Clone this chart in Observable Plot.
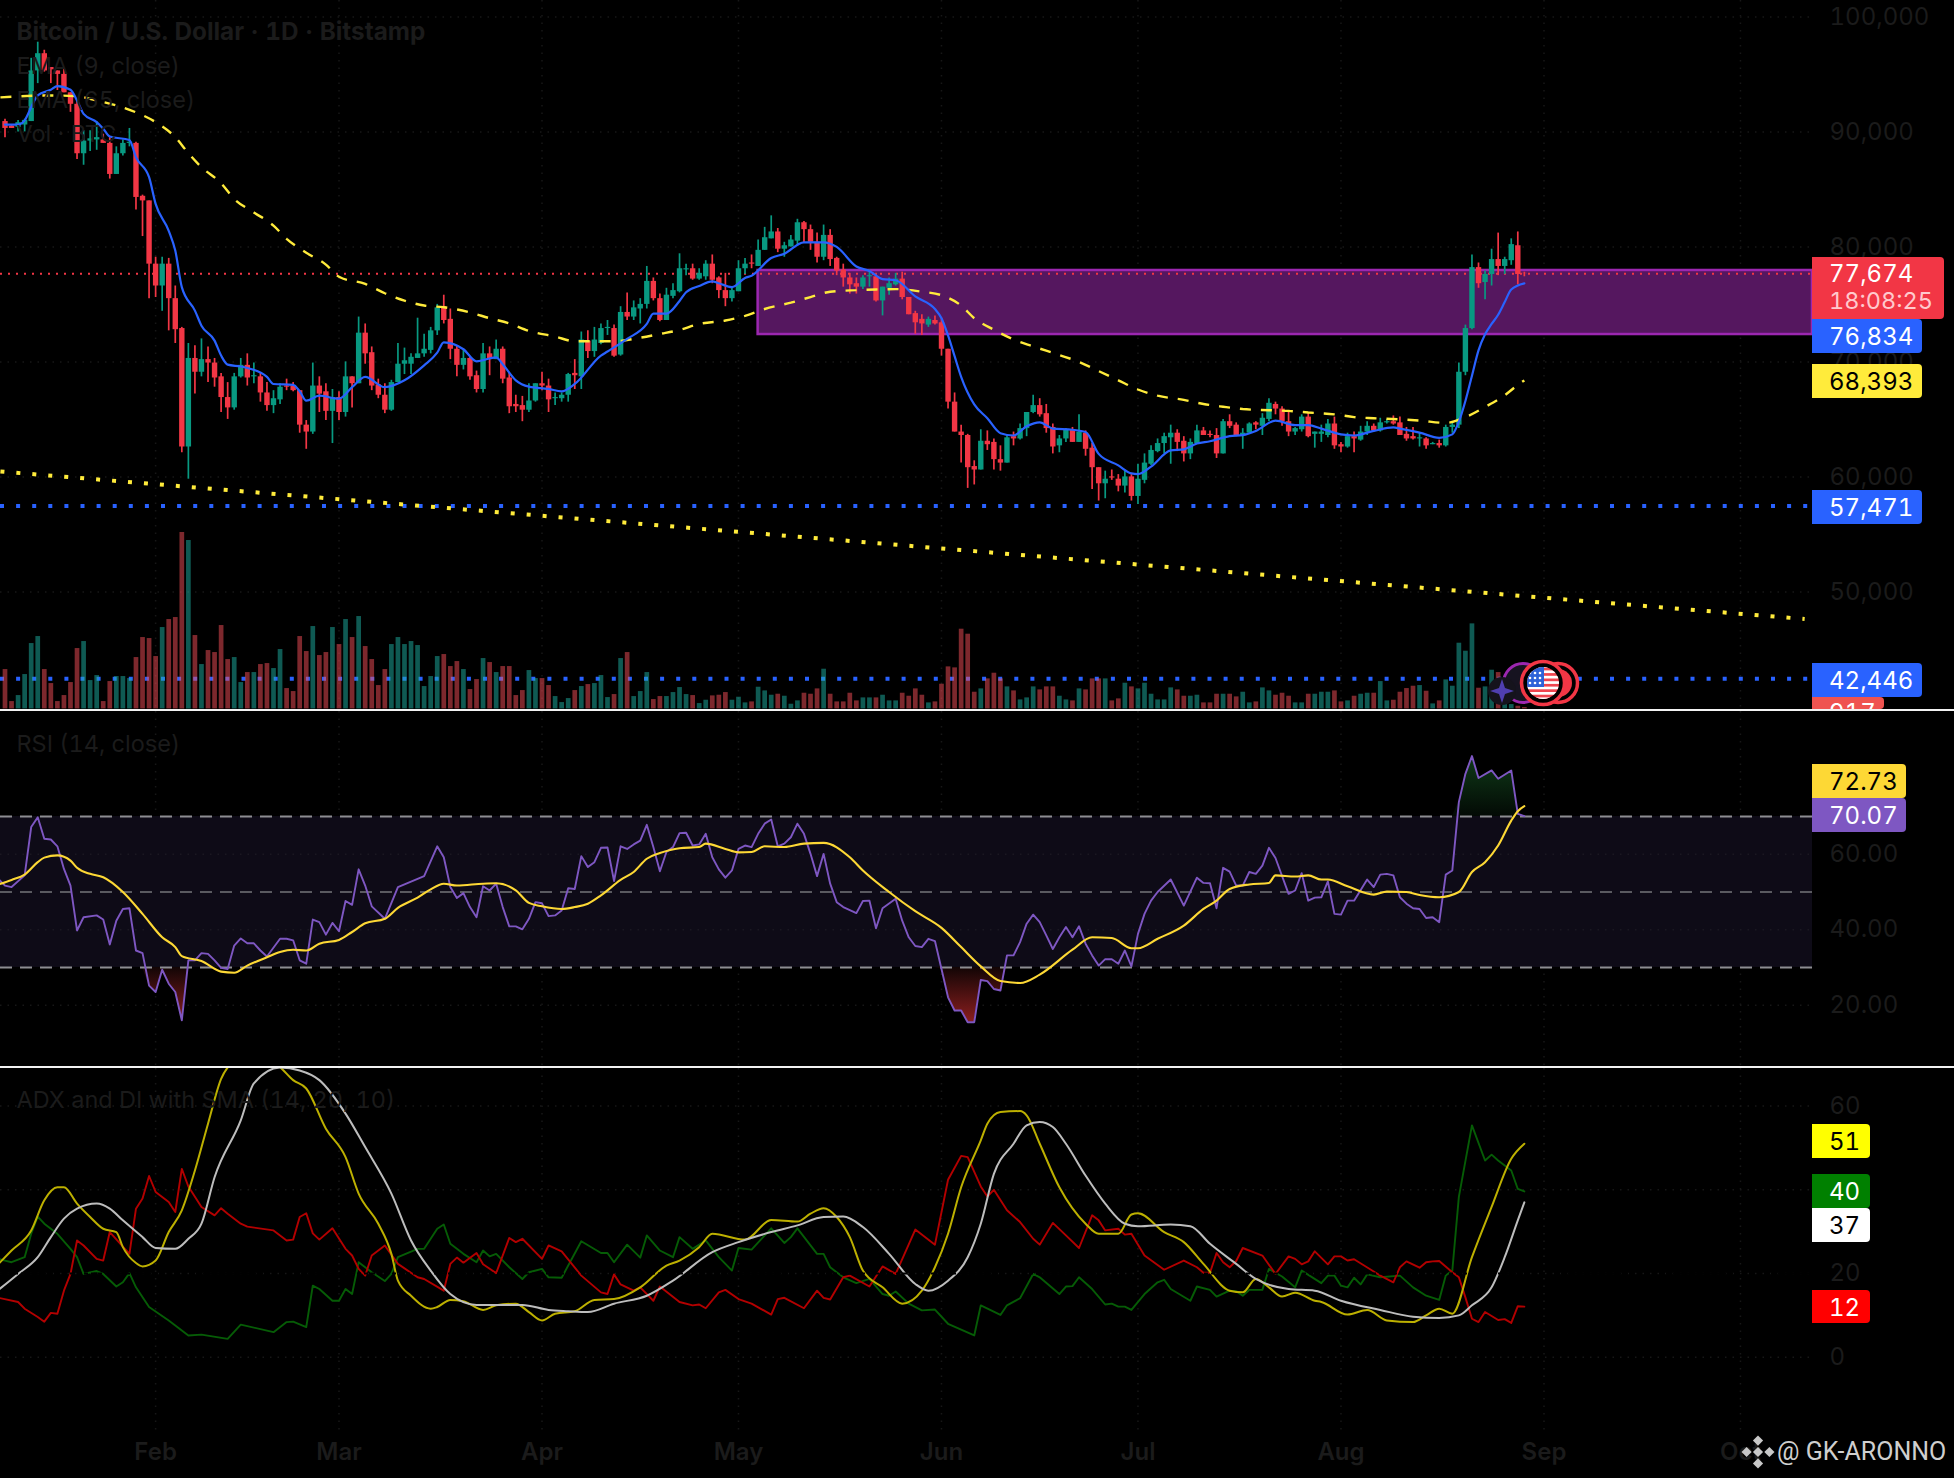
<!DOCTYPE html>
<html><head><meta charset="utf-8">
<script src="https://cdn.jsdelivr.net/npm/d3@7"></script>
<script src="https://cdn.jsdelivr.net/npm/@observablehq/plot@0.6"></script>
<style>
html,body{margin:0;padding:0;background:#000}
#chart{position:relative;width:1954px;height:1478px;background:#000;overflow:hidden;font-family:Inter,Roboto,sans-serif;font-variant-numeric:tabular-nums}
#chart svg{position:absolute;left:0}
.tag{position:absolute;left:1812px;box-sizing:border-box;padding:1px 0 0 17px;font-size:24px;border-radius:0 4px 4px 0;overflow:hidden;white-space:pre}
.sep{position:absolute;left:0;width:1954px;height:2px;background:#f2f2f2}
</style></head><body><div id="chart"></div>
<script>
// Candles, thousand USD, one row of ten per line
const opens=[90.9,90.5,90.4,90.6,90.9,95.3,96.8,95.6,95.3,95.0,
93.4,92.4,88.1,89.2,89.3,89.3,89.0,86.3,88.1,89.0,
89.0,84.4,84.0,78.5,76.6,78.5,75.5,72.9,62.6,70.3,
69.1,70.2,69.9,68.7,66.9,66.0,68.7,69.7,68.7,68.7,
67.3,66.2,66.7,67.9,67.9,67.5,64.5,63.9,67.9,67.4,
65.7,66.9,65.6,68.7,68.1,72.5,70.8,68.0,67.1,65.8,
68.2,69.8,69.8,70.3,70.7,71.0,72.7,74.8,73.7,71.1,
69.7,70.3,68.8,67.6,70.7,70.2,71.1,68.6,66.3,66.2,
65.8,66.6,68.1,67.9,66.8,66.8,67.1,69.0,68.7,71.8,
70.9,71.6,72.9,72.9,70.6,74.3,73.9,74.6,75.0,77.0,
75.5,73.6,75.7,76.1,78.0,78.1,77.2,77.4,78.5,77.3,
76.2,75.5,76.1,78.1,78.6,78.3,79.7,80.7,81.3,79.8,
80.0,80.5,82.1,81.5,80.4,79.1,81.0,79.0,78.0,77.3,
76.8,76.5,77.4,77.4,75.3,76.4,76.7,77.2,75.6,74.2,
73.7,73.2,73.6,73.4,71.1,66.5,63.9,63.6,60.9,60.6,
63.1,63.0,61.5,61.2,63.5,63.3,64.2,65.6,66.2,65.5,
64.3,62.7,63.3,64.1,63.0,63.8,62.5,60.8,59.4,60.0,
59.8,59.2,60.0,58.3,59.7,61.1,62.2,62.9,63.4,63.8,
63.1,62.0,62.9,64.0,63.7,63.6,62.0,64.8,64.5,63.6,
63.8,64.7,64.4,65.0,66.3,65.9,64.8,63.9,64.1,65.2,
63.7,63.7,63.6,64.6,62.8,62.6,63.5,63.2,63.9,64.4,
64.0,64.7,64.8,64.7,63.7,63.5,63.3,63.3,62.8,62.9,
62.7,64.3,64.5,69.1,72.9,78.2,76.9,77.6,78.9,78.3,78.8,80.1,77.7];
const highs=[91.1,90.6,91.0,91.1,96.4,97.8,97.1,95.6,95.3,95.5,
93.4,92.7,90.1,90.1,90.9,89.8,89.5,88.7,89.3,90.3,
89.1,84.5,84.0,79.1,79.1,79.0,76.6,73.0,71.6,71.4,
72.0,71.3,70.3,69.0,68.2,69.0,70.3,70.7,69.9,69.0,
68.2,67.5,68.1,68.5,68.2,67.5,64.9,69.9,68.7,68.1,
67.6,67.4,70.0,68.7,73.9,73.3,71.3,68.5,68.1,68.4,
71.6,71.2,70.7,73.8,72.4,73.0,75.0,75.8,74.6,71.4,
71.1,70.4,69.2,71.6,71.3,71.9,71.3,69.0,67.1,67.0,
68.1,68.1,69.1,68.5,67.3,67.3,69.0,70.2,72.6,72.7,
73.0,73.3,73.6,73.2,74.8,76.0,75.3,75.5,78.3,77.3,
75.9,76.4,76.8,79.4,78.5,78.5,78.1,78.8,79.3,77.4,
77.7,76.5,78.8,79.0,79.3,80.6,81.7,82.7,81.6,80.4,
81.0,82.4,82.2,81.9,81.2,81.9,81.5,79.1,78.5,77.7,
77.3,77.5,78.0,77.7,76.5,77.3,77.7,77.8,75.6,74.4,
74.1,73.9,74.0,73.8,71.1,67.3,64.5,63.7,61.4,64.1,
64.0,63.3,62.7,63.6,63.9,64.6,65.6,67.1,66.8,66.3,
64.6,63.6,64.2,64.3,65.4,64.0,62.9,60.8,60.5,60.6,
60.2,60.5,60.2,61.1,62.0,62.7,63.3,63.8,64.5,64.1,
63.5,63.3,64.5,64.3,64.0,64.2,65.0,65.4,64.7,64.2,
64.7,64.8,65.5,66.8,66.5,66.1,65.7,64.3,65.4,65.6,
63.9,64.5,65.0,65.2,63.0,63.8,63.9,64.4,64.8,64.6,
65.1,65.0,65.3,65.2,64.3,64.3,63.8,63.4,63.0,63.2,
64.5,64.8,69.9,73.2,79.3,78.6,77.9,79.8,81.2,79.1,80.7,81.3,77.8];
const lows=[89.5,90.3,90.0,90.0,90.9,94.2,95.2,94.2,93.6,93.4,
91.7,87.6,87.1,88.3,88.4,89.0,85.9,86.3,87.9,88.7,
83.2,80.9,75.5,75.6,74.4,72.7,71.6,62.1,59.8,67.2,
68.7,68.2,67.8,65.6,65.0,65.8,68.6,67.9,68.1,66.5,
65.7,65.5,66.3,67.5,67.4,63.8,62.4,63.7,65.6,64.9,
62.9,64.9,65.2,66.0,68.1,69.8,67.5,66.8,65.5,65.7,
68.2,68.9,68.9,70.3,70.4,70.7,72.3,73.3,70.2,68.7,
69.3,68.4,67.3,67.3,68.8,70.2,68.1,65.5,65.6,64.8,
65.6,66.5,67.5,65.6,66.2,66.5,66.5,67.6,67.6,70.3,
70.4,71.5,72.3,70.4,70.5,73.6,73.6,73.3,74.6,75.3,
73.5,73.6,75.5,76.0,77.5,77.1,77.1,77.1,76.8,75.5,
74.8,75.2,76.1,77.6,78.1,78.3,79.7,80.7,79.5,79.1,
80.0,80.1,80.3,79.7,78.6,78.8,78.3,77.5,76.5,75.9,
75.9,76.3,76.5,75.2,74.0,75.8,76.6,75.4,74.1,72.4,
72.3,73.0,73.2,70.5,65.9,63.9,61.2,59.0,59.3,60.6,
62.3,60.6,60.5,61.2,62.7,63.2,63.5,65.5,65.2,63.8,
62.0,62.1,63.0,63.0,63.0,61.8,58.9,57.9,58.1,59.7,
58.7,58.6,57.9,57.6,59.4,61.0,62.1,62.0,61.1,62.2,
61.3,61.5,62.9,63.6,63.4,61.6,62.0,64.2,63.5,62.4,
63.8,64.1,63.6,64.8,65.4,64.4,63.5,63.6,63.9,63.4,
62.5,63.0,63.4,62.4,62.1,62.5,62.1,63.1,63.6,63.9,
63.9,64.6,64.5,63.6,63.1,63.2,62.6,62.4,62.8,62.5,
62.6,63.8,64.2,68.8,72.8,76.4,75.4,76.6,77.5,77.6,78.4,76.7,77.4];
const closes=[90.3,90.3,90.8,91.0,95.3,96.8,95.3,95.4,95.0,93.4,
92.4,88.1,89.2,89.4,89.5,89.0,86.3,88.1,89.0,89.1,
84.3,84.0,78.5,76.6,78.5,75.5,72.8,62.6,70.3,69.1,
70.2,69.9,68.6,66.9,66.0,68.7,69.7,68.6,68.8,67.3,
66.2,66.8,67.8,67.8,67.5,64.5,63.9,67.9,67.2,65.7,
66.9,65.6,68.7,68.1,72.5,70.7,67.9,67.1,65.8,68.2,
69.8,70.1,70.4,70.7,71.1,72.7,74.7,73.6,71.1,69.7,
70.3,68.7,67.6,70.7,70.2,71.1,68.5,66.1,66.1,65.8,
66.6,68.1,67.9,66.7,66.9,67.1,68.9,68.8,71.9,70.9,
71.9,72.9,73.0,70.5,74.3,73.9,74.7,75.0,77.0,75.5,
73.6,75.8,76.2,78.1,78.1,77.2,77.7,78.5,77.1,76.2,
75.5,76.2,78.1,78.5,78.5,79.7,80.8,81.3,79.8,80.1,
80.6,82.1,81.5,80.4,79.1,81.0,78.9,77.9,77.3,76.7,
76.5,77.3,77.5,75.3,76.5,76.8,77.2,75.6,74.1,73.4,
73.3,73.7,73.3,71.1,66.5,63.9,63.6,60.8,60.6,63.1,
62.8,61.5,61.2,63.4,63.3,64.2,65.6,66.2,65.4,64.2,
62.6,63.3,64.1,63.0,63.9,62.4,60.8,59.4,59.8,59.9,
59.2,60.0,58.3,59.8,61.2,62.3,62.9,63.5,63.8,63.0,
62.0,63.0,64.0,63.6,63.6,62.0,64.8,64.4,63.6,63.8,
64.6,64.5,65.1,66.4,65.9,64.8,63.9,64.2,65.2,63.5,
63.9,63.9,64.6,62.7,62.6,63.5,63.3,63.9,64.4,64.0,
64.7,64.8,64.6,63.6,63.3,63.3,63.4,62.7,62.9,62.7,
64.3,64.5,69.1,72.9,78.2,76.8,77.6,78.9,78.3,78.9,80.2,77.6,77.674];
const volumes=[1180,220,400,1030,1960,2170,1180,760,220,400,
790,1810,2020,850,1000,220,820,970,970,910,
1540,2140,2110,1570,2440,2680,2740,5290,5050,2200,
1330,1750,1690,2500,1480,1540,790,1090,1090,1330,
1360,1210,1780,610,520,2170,1720,2470,1600,1690,
2440,1930,2680,2140,2770,1870,1480,700,1180,1930,
2140,1930,2020,1900,670,970,1570,1630,1270,1420,
1180,580,880,1510,1390,1090,1270,1270,400,550,
1150,910,910,700,370,190,310,550,670,730,
760,1000,340,430,1510,1690,370,520,1090,280,
370,370,490,640,430,400,160,260,390,410,
490,260,350,180,210,650,540,410,440,380,
140,240,470,440,600,1190,440,210,210,470,
240,330,330,330,410,240,240,470,380,600,
410,180,210,740,1260,1230,2390,2240,500,600,
900,1070,900,660,540,270,330,660,570,660,
660,380,270,240,600,570,900,900,900,240,
300,770,660,600,770,440,270,270,630,570,
380,380,410,180,180,440,440,440,360,500,
180,210,630,540,410,470,380,180,180,440,
440,500,500,540,210,240,380,440,470,470,
820,240,260,500,610,680,700,530,150,240,
870,680,1970,1730,2550,620,660,1160,1090,240,130,80,40];

// Lines, read as [day, value] at their visible vertices
const ema9=[[0,90.64],[2,90.64],[3,91.0],[4,92.15],[5,93.17],[7,93.66],[8,93.98],[10,93.66],[11,92.73],[12,91.57],[14,90.85],[15,90.27],[16,89.6],[19,89.3],[20,87.8],[22,86.06],[23,83.74],[25,81.4],[26,79.68],[27,76.5],[29,74.46],[30,73.15],[32,71.85],[33,70.55],[34,69.76],[36,69.6],[37,69.47],[40,68.7],[41,68.08],[44,68.0],[45,67.44],[46,66.63],[48,67.06],[51,66.8],[53,67.8],[55,68.7],[58,67.8],[61,68.4],[64,69.7],[66,70.8],[67,71.7],[70,71.1],[72,70.05],[75,70.4],[76,69.8],[78,68.4],[80,67.85],[83,67.65],[85,67.44],[87,68.08],[91,70.55],[92,70.9],[95,72.0],[98,73.3],[99,74.2],[101,74.2],[103,75.3],[104,76.05],[106,76.6],[108,77.0],[109,76.84],[111,76.5],[113,77.3],[114,77.5],[117,79.03],[119,79.4],[122,80.4],[125,80.4],[127,80.0],[130,78.3],[132,77.9],[134,77.2],[136,77.1],[139,75.7],[142,74.6],[143,73.8],[144,72.3],[145,70.5],[146,68.7],[148,66.3],[150,65.1],[152,63.8],[154,63.6],[156,64.4],[158,64.75],[160,64.2],[163,64.1],[165,63.9],[167,62.0],[170,61.0],[172,60.3],[173,60.25],[175,60.9],[178,62.3],[180,62.4],[182,62.9],[184,63.1],[187,63.55],[189,63.64],[191,64.0],[194,64.9],[197,64.5],[199,64.5],[201,64.2],[204,63.7],[206,63.6],[209,64.0],[212,64.3],[213,64.2],[216,63.85],[219,63.4],[221,63.7],[222,64.8],[223,66.6],[224,68.8],[225,71.0],[226,72.4],[227,73.3],[228,74.1],[229,75.2],[230,76.3],[232,76.834]];
const ema65=[[-0.7,93.0],[7,93.17],[11,93.1],[14,92.73],[17,92.3],[20,91.7],[23,90.85],[26,89.54],[28,88.15],[30,86.93],[33,85.54],[35,84.17],[38,83.0],[41,81.85],[43,80.7],[46,79.5],[49,78.46],[51,77.4],[55,76.78],[58,75.97],[61,75.33],[64,74.9],[67,74.75],[71,74.3],[74,73.8],[77,73.35],[80,72.7],[84,72.2],[87,71.8],[90,71.8],[93,71.8],[97,72.1],[100,72.43],[103,72.78],[106,73.3],[110,73.6],[113,74.0],[116,74.6],[120,75.15],[123,75.64],[126,76.1],[130,76.24],[133,76.3],[136,76.33],[140,76.1],[143,75.8],[146,74.9],[148,73.8],[151,72.8],[154,71.95],[157,71.35],[161,70.6],[164,70.0],[167,69.2],[170,68.4],[173,67.6],[176,67.06],[180,66.7],[183,66.34],[186,66.1],[189,65.9],[193,65.8],[196,65.74],[199,65.6],[203,65.44],[206,65.2],[209,65.1],[213,65.0],[216,64.9],[220,64.7],[223,65.2],[226,66.08],[229,67.1],[231,68.0],[232,68.393]];
const trendline=[[-0.7,60.47],[274.8,47.64]];
const rsi=[[-1,53.4],[0,51.7],[1,51.3],[3,54.4],[4,67.2],[5,69.8],[6,64.1],[7,63.9],[8,62.1],[9,56.1],[10,51.7],[11,39.8],[12,43.3],[14,43.8],[15,42.7],[16,36.1],[17,42.4],[18,45.5],[19,45.7],[20,34.5],[21,33.8],[22,25.2],[23,23.5],[24,29.4],[25,25.7],[26,23.5],[27,16.0],[28,31.9],[29,31.9],[30,33.8],[31,33.6],[32,31.9],[33,29.9],[34,29.6],[35,35.8],[36,37.7],[37,36.4],[38,36.4],[39,34.5],[40,32.9],[42,37.6],[43,37.6],[44,37.2],[45,31.9],[46,31.0],[47,42.7],[48,42.0],[49,38.7],[50,41.8],[51,39.6],[52,47.6],[53,46.6],[54,56.0],[55,51.7],[56,46.2],[58,42.9],[60,51.3],[64,54.2],[66,62.1],[67,59.2],[68,51.3],[69,48.4],[70,49.7],[71,46.0],[72,43.3],[73,51.5],[74,50.4],[75,52.2],[76,46.0],[77,40.9],[78,40.9],[79,40.1],[80,42.9],[81,47.3],[82,47.0],[83,43.6],[84,43.8],[85,45.1],[86,51.0],[87,50.8],[88,59.5],[89,56.6],[90,57.9],[91,61.7],[92,61.8],[93,52.9],[94,62.1],[95,61.4],[96,62.6],[97,63.6],[98,67.8],[99,61.9],[100,55.5],[101,60.6],[102,61.9],[103,65.6],[104,65.7],[105,62.3],[106,62.6],[107,65.4],[108,59.2],[109,56.0],[110,53.8],[111,55.7],[112,61.4],[113,62.3],[114,61.9],[115,65.4],[116,68.1],[117,69.2],[118,62.1],[119,62.8],[120,64.5],[121,68.1],[122,65.4],[123,60.1],[124,54.2],[125,60.1],[126,52.2],[127,47.3],[128,46.0],[130,44.4],[131,47.6],[132,47.7],[133,40.4],[134,45.7],[136,48.2],[137,42.4],[138,38.0],[139,35.7],[140,35.4],[141,37.6],[142,37.0],[143,29.6],[144,22.1],[145,18.6],[146,18.6],[147,15.5],[148,15.5],[149,26.7],[150,26.4],[151,24.3],[152,23.9],[153,33.2],[154,33.2],[155,36.7],[156,41.6],[157,44.0],[158,42.0],[159,38.5],[160,34.9],[161,38.0],[162,40.7],[163,38.0],[164,40.9],[165,36.3],[166,33.2],[167,30.5],[168,32.2],[169,32.2],[170,31.0],[171,34.5],[172,30.3],[173,38.9],[174,44.2],[175,47.7],[176,50.0],[178,53.3],[180,46.4],[182,53.8],[183,52.4],[184,52.3],[185,45.7],[186,56.4],[187,55.4],[188,51.7],[189,51.7],[190,55.3],[191,54.8],[192,57.0],[193,61.7],[194,59.0],[196,49.5],[197,50.4],[198,55.0],[199,47.7],[200,48.5],[201,48.6],[202,52.8],[203,44.2],[204,44.0],[205,47.7],[206,47.7],[208,53.3],[209,51.3],[210,54.6],[211,54.8],[212,54.4],[213,48.6],[214,46.9],[215,45.7],[216,45.5],[217,43.1],[218,43.3],[219,42.0],[220,54.6],[221,55.7],[222,73.8],[223,81.3],[224,86.0],[225,80.2],[227,82.2],[228,80.0],[230,82.2],[231,70.7],[232,70.07]];
const rsiMA=[[-1,52.0],[1,53.2],[3,54.6],[5,57.9],[6,59.1],[8,59.7],[10,58.3],[11,56.4],[13,54.8],[15,53.9],[18,50.0],[21,44.2],[24,38.0],[26,35.4],[27,33.0],[30,31.7],[33,28.9],[35,28.6],[37,30.5],[40,32.7],[42,34.1],[44,34.7],[46,34.5],[48,36.3],[51,37.3],[53,39.4],[55,41.7],[58,42.9],[60,45.8],[63,48.5],[65,50.7],[67,52.2],[69,51.7],[73,52.2],[75,52.3],[78,50.4],[80,47.1],[82,46.2],[85,45.5],[87,46.0],[89,46.9],[91,49.1],[94,53.2],[96,55.3],[98,58.8],[100,60.3],[103,61.6],[106,61.9],[107,62.8],[110,61.4],[112,60.5],[114,60.6],[116,62.1],[119,61.9],[122,62.8],[125,63.0],[129,59.2],[131,55.7],[135,50.0],[139,44.9],[143,40.5],[146,35.4],[149,30.3],[152,26.4],[155,25.9],[158,28.1],[163,34.7],[166,38.0],[169,37.8],[172,35.1],[173,35.1],[176,37.6],[180,41.1],[183,45.5],[185,47.7],[187,50.8],[190,52.0],[193,52.4],[194,54.4],[197,54.1],[199,54.4],[201,53.3],[202,53.3],[205,51.5],[209,49.3],[211,50.1],[214,50.0],[216,49.2],[219,48.6],[222,50.0],[224,55.3],[226,57.9],[228,62.3],[230,68.9],[231,71.4],[232,72.73]];
const adxYellow=[[-1,22.3],[1,25.5],[4,30.3],[6,37.5],[8,40.6],[9,40.6],[11,36.7],[13,33.5],[15,30.7],[17,29.9],[18,26.3],[20,22.5],[21,21.7],[23,23.1],[25,29.9],[27,35.1],[29,44.6],[31,55.8],[33,66.5],[35,70.9],[38,73.0],[42,69.3],[44,66.2],[46,64.2],[49,54.6],[52,47.8],[54,39.1],[57,31.9],[59,24.7],[60,18.3],[62,14.7],[65,11.6],[66,12.0],[68,13.7],[70,13.4],[73,11.3],[75,12.4],[78,12.8],[80,10.8],[82,8.8],[84,10.4],[87,11.0],[90,13.7],[93,13.9],[97,16.7],[101,21.9],[103,23.1],[106,26.3],[108,29.5],[113,28.1],[117,32.8],[121,32.4],[123,34.3],[125,35.6],[127,33.5],[129,28.7],[131,20.7],[134,16.7],[137,12.8],[140,15.9],[142,21.5],[144,29.5],[146,40.6],[149,51.8],[150,55.8],[152,58.6],[155,58.8],[156,57.8],[158,51.0],[161,40.6],[165,31.9],[167,29.5],[170,29.5],[172,34.1],[173,34.4],[177,29.9],[180,27.5],[183,22.3],[187,15.9],[189,15.5],[191,18.7],[193,16.7],[195,14.5],[197,15.4],[200,13.5],[201,13.2],[205,10.2],[208,11.3],[211,8.8],[215,8.4],[217,10.0],[219,11.6],[221,10.4],[224,23.9],[227,35.9],[230,47.4],[232,51.0]];
const adxSma=[[-1,16.1],[2,19.9],[5,23.9],[7,28.7],[9,33.1],[11,35.5],[14,36.7],[16,35.5],[18,32.7],[21,28.7],[23,26.1],[26,25.9],[28,28.3],[30,31.9],[32,43.0],[36,56.6],[38,65.4],[42,69.2],[45,68.5],[48,66.2],[52,58.2],[55,50.2],[59,39.1],[62,27.9],[65,20.7],[68,15.1],[72,12.5],[76,12.5],[79,12.5],[83,11.3],[86,11.0],[89,10.8],[93,12.8],[98,14.7],[102,18.3],[108,25.1],[112,27.5],[117,29.9],[121,31.5],[125,33.5],[128,33.6],[131,31.1],[135,24.7],[139,17.5],[141,15.9],[144,18.3],[147,23.9],[149,31.9],[151,43.8],[154,51.0],[156,55.4],[158,56.2],[160,55.0],[162,51.0],[165,43.4],[168,36.7],[171,31.9],[173,31.3],[178,31.7],[181,31.3],[184,27.1],[188,22.3],[191,18.7],[196,16.3],[200,15.9],[204,13.5],[210,11.3],[215,9.7],[219,9.4],[222,10.0],[224,12.4],[227,16.7],[229,23.9],[231,32.7],[232,37.0]];
const diMinus=[[-1,14.2],[2,13.2],[3,11.6],[5,9.6],[6,8.5],[7,10.6],[8,10.4],[9,15.9],[10,19.9],[11,27.9],[12,26.7],[14,23.5],[15,23.1],[16,29.9],[19,24.7],[20,35.5],[21,37.9],[22,43.3],[23,39.5],[25,37.1],[26,34.7],[27,45.0],[28,40.8],[30,35.9],[32,33.9],[33,35.6],[34,34.3],[36,31.9],[37,31.2],[41,30.3],[43,27.9],[44,28.1],[45,33.5],[46,34.4],[47,29.6],[48,28.1],[50,30.8],[52,25.9],[53,24.3],[54,21.1],[55,19.5],[56,24.3],[58,26.7],[60,22.3],[63,19.1],[64,18.7],[67,15.9],[68,22.3],[69,23.8],[70,22.6],[72,24.9],[73,22.2],[75,20.1],[77,28.5],[78,27.5],[79,28.3],[82,23.5],[83,26.7],[85,25.3],[88,19.5],[91,15.5],[92,15.1],[93,19.8],[94,17.4],[96,15.9],[97,16.7],[99,13.5],[100,16.9],[103,13.2],[105,12.4],[106,12.6],[107,11.7],[109,15.5],[110,16.1],[112,13.9],[114,12.8],[117,10.2],[118,13.9],[119,14.2],[122,11.7],[124,15.9],[125,14.2],[126,13.8],[128,19.1],[129,19.5],[132,16.9],[134,21.7],[136,19.9],[139,30.5],[142,26.9],[144,42.4],[146,48.1],[147,47.8],[149,40.8],[150,38.4],[151,40.0],[153,35.1],[155,32.3],[157,28.3],[158,26.9],[160,32.1],[162,29.1],[164,26.1],[166,33.9],[167,32.7],[168,30.3],[170,30.7],[171,29.3],[172,29.5],[174,24.3],[177,20.9],[180,23.1],[182,21.5],[183,20.2],[184,20.2],[185,24.9],[186,22.7],[187,21.5],[188,23.0],[189,26.1],[192,24.3],[194,19.9],[196,24.1],[197,23.5],[198,22.2],[199,22.9],[200,25.3],[202,22.2],[203,24.1],[204,24.1],[205,23.1],[206,23.4],[209,20.5],[210,19.5],[212,17.9],[213,21.5],[214,22.9],[216,21.4],[217,22.7],[218,22.9],[219,23.0],[221,20.3],[222,19.1],[223,14.3],[224,9.2],[225,8.4],[226,10.8],[228,8.9],[229,9.1],[230,8.2],[231,12.2],[232,12.1]];
const diPlus=[[-1,23.5],[0,23.1],[1,22.7],[3,23.9],[4,29.5],[5,33.6],[6,31.9],[8,29.5],[10,25.9],[11,23.9],[12,19.9],[14,20.6],[15,19.9],[17,16.9],[18,17.9],[19,20.1],[20,16.7],[22,12.0],[25,8.8],[26,7.6],[28,5.2],[30,5.4],[34,4.4],[36,7.8],[41,6.0],[43,8.4],[44,8.5],[46,7.2],[47,17.1],[48,16.3],[50,13.5],[51,13.5],[52,16.3],[53,15.1],[54,22.7],[56,20.3],[58,18.2],[59,19.9],[60,23.9],[63,25.9],[64,25.9],[66,30.7],[67,31.7],[68,27.1],[70,24.7],[72,22.7],[73,25.5],[74,24.1],[75,24.7],[77,21.5],[79,18.7],[80,20.3],[82,21.1],[83,19.1],[85,19.0],[88,27.7],[91,24.9],[92,24.9],[93,22.7],[95,26.9],[97,23.8],[98,29.1],[100,25.5],[102,23.9],[103,28.7],[105,25.9],[107,27.9],[109,23.9],[111,20.7],[112,26.1],[114,25.7],[117,30.8],[119,27.3],[120,28.7],[121,30.8],[124,24.7],[125,24.7],[126,21.5],[128,19.1],[130,17.7],[132,18.7],[134,15.1],[135,14.7],[136,15.7],[138,12.8],[140,11.2],[142,11.4],[144,8.0],[148,5.2],[149,12.4],[152,10.1],[153,12.4],[155,14.1],[157,19.9],[158,19.1],[161,15.1],[162,16.9],[163,17.0],[164,19.1],[166,16.3],[168,12.6],[169,12.8],[170,12.1],[171,12.1],[172,11.3],[174,15.1],[176,17.9],[177,18.5],[178,16.3],[181,13.5],[182,16.9],[184,16.1],[185,14.5],[187,15.9],[188,15.8],[189,14.7],[190,16.1],[192,16.1],[193,21.1],[195,19.3],[197,16.7],[198,20.7],[201,17.7],[202,19.5],[203,19.5],[204,17.1],[205,16.7],[206,19.0],[207,17.4],[208,19.8],[210,19.1],[213,19.5],[215,16.7],[217,14.7],[219,13.7],[220,19.5],[221,20.7],[222,38.3],[224,55.4],[226,47.0],[227,48.4],[228,47.0],[230,44.6],[231,40.2],[232,39.6]];

// Levels, zone, axis labels
const priceLast=77.674, levels=[57.471,42.446];
const zone=[{from:115,top:77.95,bottom:72.38}];
const priceTicks=[100,90,80,70,60,50];
const rsiBands=[70,50,30], rsiTicks=[60,40,20];
const adxTicks=[60,40,20,0];
const monthDays=[23,51,82,112,143,173,204,235,265];
const monthNames=["Feb","Mar","Apr","May","Jun","Jul","Aug","Sep","Oct"];

const candles=opens.map((o,i)=>({i,o,h:highs[i],l:lows[i],c:closes[i],v:volumes[i]}));
const up="#089981", dn="#f23645";
const colorOf=d=>d.c>=d.o?up:dn;
const dim="#1b1b1b", gridC="#171717";
const W=1954, RIGHT=142, XD=[-0.687,276];
const FONT="Inter,Roboto,sans-serif";
const root=document.getElementById("chart");
const P=d=>d[0], V=d=>d[1];

function grids(ticks){return [
  Plot.gridX(monthDays,{stroke:gridC,strokeOpacity:1,strokeDasharray:"1.5 6",strokeWidth:1.5}),
  Plot.gridY(ticks,{stroke:gridC,strokeOpacity:1,strokeDasharray:"1.5 6",strokeWidth:1.5})];}
function yLabels(ticks,fmt){return Plot.axisY(ticks,{anchor:"right",tickSize:0,tickPadding:17,tickFormat:fmt,fill:dim,fontSize:24,label:null});}
function legend(text,dy,opts={}){return Plot.text([text],{frameAnchor:"top-left",dx:16,dy,text:d=>d,fill:dim,fontSize:23.5,lineAnchor:"middle",...opts});}
function mount(svg,top){svg.style.top=top+"px";svg.style.position="absolute";svg.style.background="transparent";root.appendChild(svg);}
function base(height,domain,marginBottom,marks){
  return Plot.plot({width:W,height,marginTop:0,marginBottom,marginLeft:0,marginRight:RIGHT,
    style:{background:"transparent",fontFamily:FONT,fontSize:"24px"},
    x:{domain:XD,axis:null},y:{domain,axis:null},marks});
}
const butt={strokeLinecap:"butt",strokeLinejoin:"miter"};
const smooth={curve:"monotone-x"};

// Price pane
mount(base(709,[39.774,101.426],0,[
  ...grids(priceTicks),
  Plot.rect(zone,{x1:"from",x2:()=>XD[1],y1:"bottom",y2:"top",fill:"#55175f",stroke:"#9c27b0",strokeWidth:2.5}),
  Plot.ruleY(levels,{stroke:"#2962ff",strokeWidth:4,strokeDasharray:"4 12.1",...butt}),
  Plot.line(trendline,{x:P,y:V,stroke:"#ffeb3b",strokeWidth:4,strokeDasharray:"4 12",...butt}),
  Plot.ruleY([priceLast],{stroke:dn,strokeWidth:2,strokeDasharray:"2 6",...butt}),
  Plot.ruleX(candles,{x:"i",y1:"l",y2:"h",stroke:colorOf,strokeWidth:1.7}),
  Plot.ruleX(candles,{x:"i",y1:"o",y2:"c",stroke:colorOf,strokeWidth:5.4}),
  Plot.line(ema65,{x:P,y:V,stroke:"#ffeb3b",strokeWidth:2.4,strokeDasharray:"11 10",...butt,...smooth}),
  Plot.line(ema9,{x:P,y:V,stroke:"#2962ff",strokeWidth:2.2,...smooth}),
  yLabels(priceTicks,d=>d3.format(",")(d*1000)),
  legend("Bitcoin / U.S. Dollar · 1D · Bitstamp",32,{fontWeight:700,fontSize:24.3}),
  legend("EMA (9, close)",66),
  legend("EMA (65, close)",100),
  legend("Vol · BTC",134)
]),0);

// Volume bars, own scale on the same pane
mount(Plot.plot({width:W,height:709,margin:0,marginRight:RIGHT,style:{background:"transparent"},
  x:{domain:XD,axis:null},y:{domain:[0,5290],range:[708.4,532],axis:null},
  marks:[Plot.ruleX(candles,{x:"i",y1:0,y2:"v",stroke:d=>d.c>=d.o?"#1eb4a5":"#fa505a",strokeOpacity:0.5,strokeWidth:4.7})]}),0);

// RSI pane
function gradientDefs(){
  const ns="http://www.w3.org/2000/svg",g=document.createElementNS(ns,"g");
  g.innerHTML=`<defs><linearGradient id="obGrad" x1="0" y1="0" x2="0" y2="1"><stop offset="0" stop-color="#0f3a18"/><stop offset="1" stop-color="#030a05"/></linearGradient>
  <linearGradient id="osGrad" x1="0" y1="0" x2="0" y2="1"><stop offset="0" stop-color="#120505"/><stop offset="1" stop-color="#8a1e1e"/></linearGradient></defs>`;
  return g;
}
mount(base(355,[3.77,97.81],0,[
  gradientDefs,
  ...grids(rsiTicks),
  Plot.rect([0],{x1:()=>XD[0],x2:()=>XD[1],y1:()=>30,y2:()=>70,fill:"#0e0b17"}),
  Plot.gridY(rsiTicks.filter(t=>t>30),{stroke:"#1b1822",strokeOpacity:1,strokeDasharray:"1.5 6",strokeWidth:1.5}),
  Plot.areaY(rsi,{x:P,y1:()=>70,y2:d=>Math.max(d[1],70),fill:"url(#obGrad)"}),
  Plot.areaY(rsi,{x:P,y1:d=>Math.min(d[1],30),y2:()=>30,fill:"url(#osGrad)"}),
  Plot.ruleY([70,30],{stroke:"#8d8d92",strokeWidth:2,strokeDasharray:"12 8",...butt}),
  Plot.ruleY([50],{stroke:"#5a5a60",strokeWidth:2,strokeDasharray:"12 8",...butt}),
  Plot.line(rsi,{x:P,y:V,stroke:"#7e57c2",strokeWidth:1.9}),
  Plot.line(rsiMA,{x:P,y:V,stroke:"#fdd835",strokeWidth:2.1,...smooth}),
  yLabels(rsiTicks,d=>d.toFixed(2)),
  legend("RSI (14, close)",33)
]),711);

// ADX pane
mount(base(410,[-17.5,68.98],48,[
  ...grids(adxTicks),
  Plot.line(diPlus,{x:P,y:V,stroke:"#065c06",strokeWidth:1.9}),
  Plot.line(diMinus,{x:P,y:V,stroke:"#b30000",strokeWidth:1.9}),
  Plot.line(adxYellow,{x:P,y:V,stroke:"#bdb000",strokeWidth:2,...smooth}),
  Plot.line(adxSma,{x:P,y:V,stroke:"#bdbdbd",strokeWidth:2,...smooth}),
  Plot.ruleY([20],{stroke:"#000",strokeWidth:2,strokeDasharray:"4 3",...butt}),
  yLabels(adxTicks,d=>String(d)),
  Plot.axisX(monthDays,{anchor:"bottom",tickSize:0,tickPadding:12,tickFormat:d=>monthNames[monthDays.indexOf(d)],fill:dim,fontSize:24,fontWeight:600,label:null}),
  legend("ADX and DI with SMA (14, 20, 10)",32)
]),1068);

// Separators
for(const y of [708.5,1066]){const s=document.createElement("div");s.className="sep";s.style.top=y+"px";root.appendChild(s);}

// Value tags
function tag(text,top,h,w,bg,fg,extra=""){
  const t=document.createElement("div");t.className="tag";t.textContent=text;
  t.style.cssText=`top:${top}px;height:${h}px;width:${w}px;background:${bg};color:${fg};line-height:${h}px;${extra}`;
  root.appendChild(t);return t;
}
const pw=110;
const red=tag("",257,62,132,dn,"#fff");
red.innerHTML='<div style="line-height:30px;margin-top:1px">77,674</div><div style="line-height:30px;margin-top:-3px;color:#ffc9cd;font-size:23.5px">18:08:25</div>';
tag("76,834",319,34,pw,"#2962ff","#fff");
tag("68,393",364,34,pw,"#ffeb3b","#000");
tag("57,471",490,34,pw,"#2962ff","#fff");
tag("42,446",663,34,pw,"#2962ff","#fff");
tag("917",697,12,72,"#ef5350","#fff","line-height:30px;");
tag("72.73",764,34,94,"#fdd835","#000");
tag("70.07",798,34,94,"#7e57c2","#fff");
tag("51",1124,34,58,"#ffff00","#000");
tag("40",1174,34,58,"#008000","#fff");
tag("37",1208,34,58,"#ffffff","#000");
tag("12",1290,33,58,"#ff0000","#fff");

// Event badges
const over=document.createElementNS("http://www.w3.org/2000/svg","svg");
over.setAttribute("width",W);over.setAttribute("height",1478);over.style.top="0";over.style.pointerEvents="none";
let stripes="";for(let k=0;k<7;k++)stripes+=`<rect x="1523" y="${665+k*5.4}" width="40" height="2.7" fill="#ffffff"/>`;
let stars="";for(const[a,b]of[[1530,673],[1535,673],[1540,673],[1530,678],[1535,678],[1540,678],[1530,683],[1535,683],[1540,683]])stars+=`<circle cx="${a}" cy="${b}" r="1.3" fill="#fff"/>`;
over.innerHTML=`
<defs><clipPath id="fl"><circle cx="1543" cy="683" r="16"/></clipPath></defs>
<circle cx="1523" cy="683" r="19.5" fill="#161320" stroke="#9c27b0" stroke-width="3"/>
<circle cx="1502" cy="691" r="14" fill="#15131c"/>
<path d="M1502 679 L1505 688 L1514 691 L1505 694 L1502 703 L1499 694 L1490 691 L1499 688 Z" fill="#4f3fb0"/>
<circle cx="1558" cy="683" r="19.5" fill="#000" stroke="#f23645" stroke-width="3.5"/>
<circle cx="1558" cy="683" r="14" fill="#f23645"/>
<circle cx="1543" cy="683" r="21.5" fill="#000" stroke="#f23645" stroke-width="3.5"/>
<g clip-path="url(#fl)"><rect x="1525" y="665" width="38" height="36" fill="#f0454f"/>${stripes}<rect x="1525" y="665" width="19" height="22" fill="#2e63d8"/>${stars}</g>
<g transform="translate(1758,1452)" fill="#c8c8c8">
<rect x="-3.6" y="-15" width="7.2" height="7.2" transform="rotate(45 0 -11.4)"/>
<rect x="-3.6" y="7.8" width="7.2" height="7.2" transform="rotate(45 0 11.4)"/>
<rect x="-15" y="-3.6" width="7.2" height="7.2" transform="rotate(45 -11.4 0)"/>
<rect x="7.8" y="-3.6" width="7.2" height="7.2" transform="rotate(45 11.4 0)"/>
<rect x="-3.6" y="-3.6" width="7.2" height="7.2" transform="rotate(45 0 0)"/>
</g>`;
root.appendChild(over);

const mark=document.createElement("div");
mark.textContent="@ GK-ARONNO";
mark.style.cssText="position:absolute;left:1777px;top:1436px;font:25px/32px Roboto,sans-serif;color:#cfcfcf;white-space:pre";
root.appendChild(mark);
</script></body></html>
